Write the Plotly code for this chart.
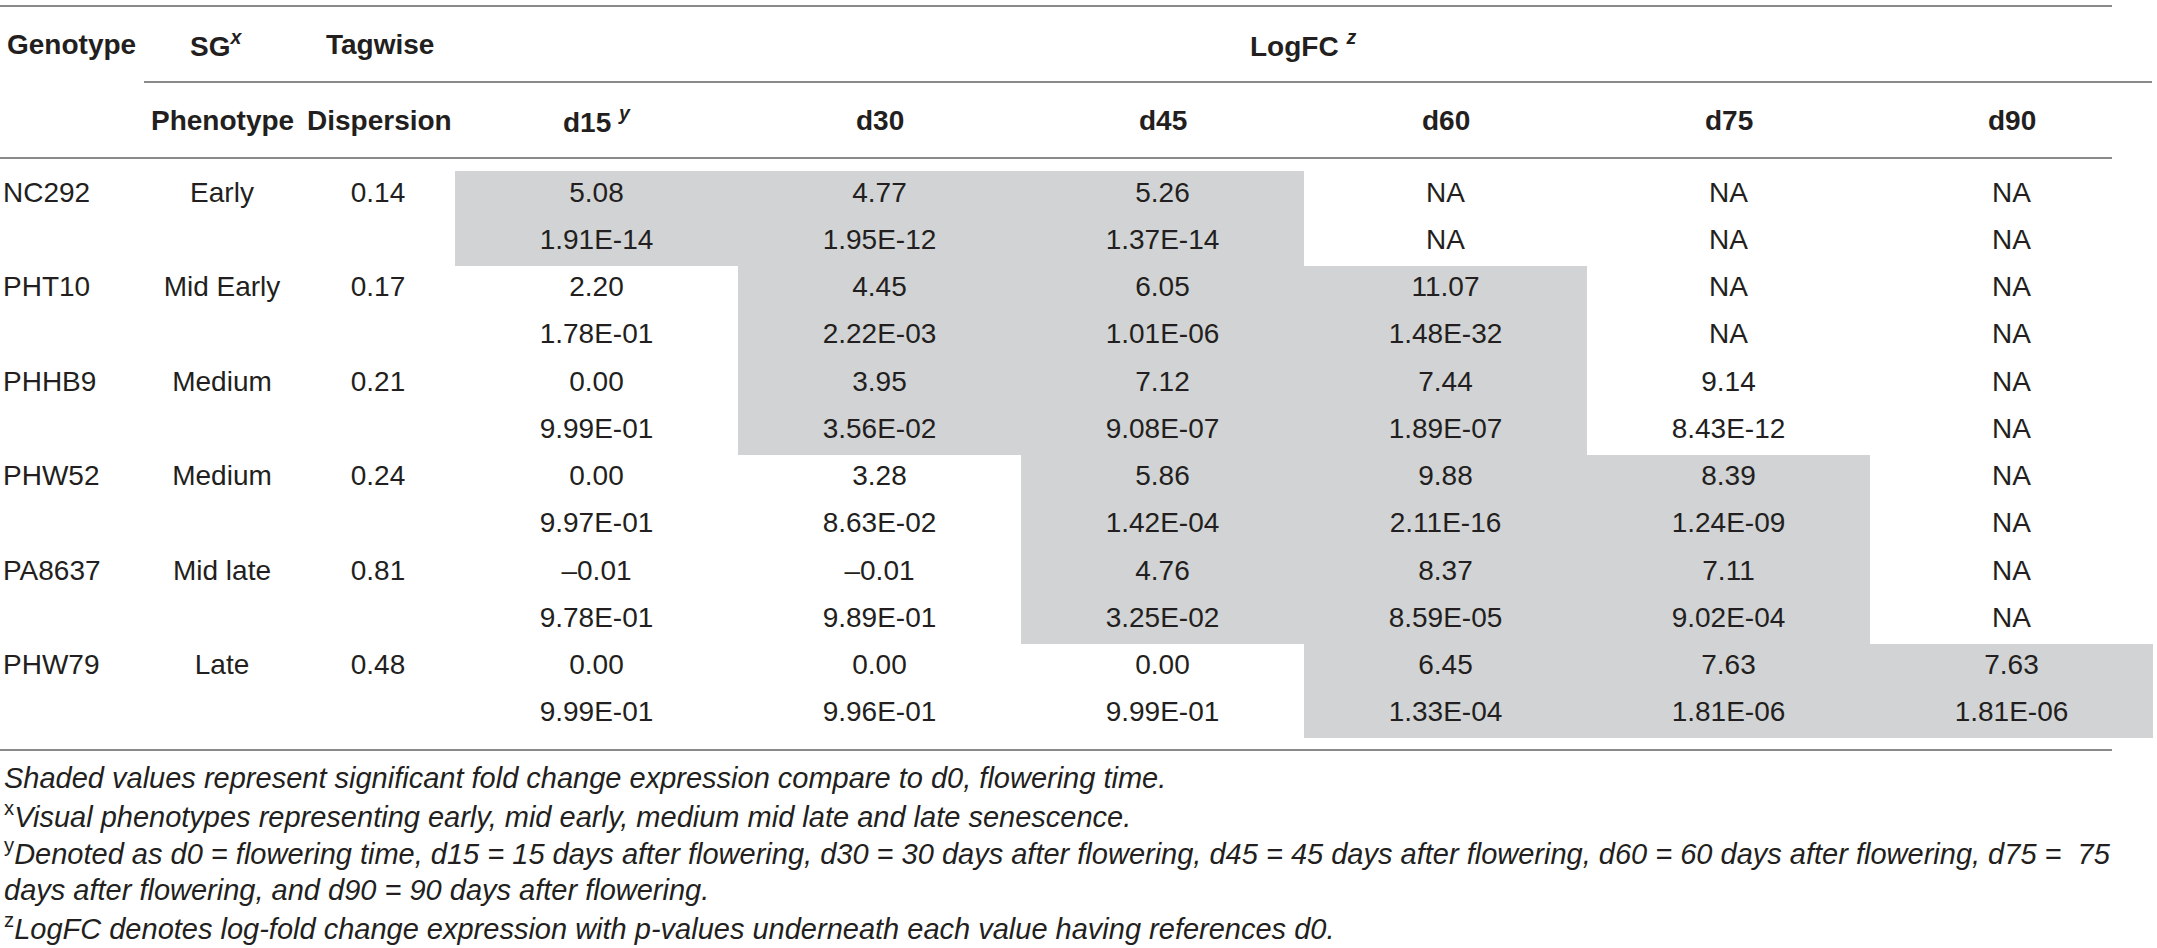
import plotly.graph_objects as go

# table contents
genotypes = ["NC292", "PHT10", "PHHB9", "PHW52", "PA8637", "PHW79"]
phenotypes = ["Early", "Mid Early", "Medium", "Medium", "Mid late", "Late"]
dispersion = [0.14, 0.17, 0.21, 0.24, 0.81, 0.48]
days = ["d15", "d30", "d45", "d60", "d75", "d90"]

logfc = [
    [5.08, 4.77, 5.26, None, None, None],
    [2.20, 4.45, 6.05, 11.07, None, None],
    [0.00, 3.95, 7.12, 7.44, 9.14, None],
    [0.00, 3.28, 5.86, 9.88, 8.39, None],
    [-0.01, -0.01, 4.76, 8.37, 7.11, None],
    [0.00, 0.00, 0.00, 6.45, 7.63, 7.63],
]
pvalues = [
    [1.91e-14, 1.95e-12, 1.37e-14, None, None, None],
    [1.78e-01, 2.22e-03, 1.01e-06, 1.48e-32, None, None],
    [9.99e-01, 3.56e-02, 9.08e-07, 1.89e-07, 8.43e-12, None],
    [9.97e-01, 8.63e-02, 1.42e-04, 2.11e-16, 1.24e-09, None],
    [9.78e-01, 9.89e-01, 3.25e-02, 8.59e-05, 9.02e-04, None],
    [9.99e-01, 9.96e-01, 9.99e-01, 1.33e-04, 1.81e-06, 1.81e-06],
]
# 1 = shaded (significant vs d0)
shaded = [
    [1, 1, 1, 0, 0, 0],
    [0, 1, 1, 1, 0, 0],
    [0, 1, 1, 1, 0, 0],
    [0, 0, 1, 1, 1, 0],
    [0, 0, 1, 1, 1, 0],
    [0, 0, 0, 1, 1, 1],
]

footnotes = [
    "<i>Shaded values represent significant fold change expression compare to d0, flowering time.</i>",
    "<sup>x</sup><i>Visual phenotypes representing early, mid early, medium mid late and late senescence.</i>",
    "<sup>y</sup><i>Denoted as d0 = flowering time, d15 = 15 days after flowering, d30 = 30 days after flowering, "
    "d45 = 45 days after flowering, d60 = 60 days after flowering, d75 =&nbsp; 75</i>",
    "<i>days after flowering, and d90 = 90 days after flowering.</i>",
    "<sup>z</sup><i>LogFC denotes log-fold change expression with p-values underneath each value having references d0.</i>",
]

# page geometry (pixels)
W, H = 2157, 948
col_x0, col_w = 455, 283
body_top, sub_h = 171, 47.25
col_centers = [col_x0 + col_w * (i + 0.5) for i in range(len(days))]
sub_centers = [body_top + sub_h * (k + 0.5) for k in range(2 * len(genotypes))]
foot_y = [778, 815, 852, 890, 927]

FONT = "Liberation Sans, Arial, sans-serif"
TXT = "#231f20"
LINE = "#8a8a8a"
SHADE = "#d1d3d4"
body_font = dict(family=FONT, size=28, color=TXT)


def fmt_fc(v):
    if v is None:
        return "NA"
    s = "{:.2f}".format(v)
    return s.replace("-", "–")


def fmt_p(v):
    return "NA" if v is None else "{:.2E}".format(v)


fig = go.Figure()

# shading
z = []
for row in shaded:
    zr = [1 if s else None for s in row]
    z.append(zr)
    z.append(zr)
fig.add_trace(go.Heatmap(
    x=col_centers, y=sub_centers, z=z,
    colorscale=[[0, SHADE], [1, SHADE]], showscale=False, hoverinfo="skip",
))

# values
xs, ys, ts = [], [], []
for g in range(len(genotypes)):
    for i in range(len(days)):
        xs += [col_centers[i], col_centers[i]]
        ys += [sub_centers[2 * g], sub_centers[2 * g + 1]]
        ts += [fmt_fc(logfc[g][i]), fmt_p(pvalues[g][i])]
fig.add_trace(go.Scatter(x=xs, y=ys, text=ts, mode="text", textposition="middle center",
                         textfont=body_font, hoverinfo="skip"))

first_rows = [sub_centers[2 * g] for g in range(len(genotypes))]
fig.add_trace(go.Scatter(x=[3] * len(genotypes), y=first_rows, text=genotypes, mode="text",
                         textposition="middle right", textfont=body_font,
                         hoverinfo="skip", cliponaxis=False))
fig.add_trace(go.Scatter(x=[222] * len(genotypes), y=first_rows, text=phenotypes, mode="text",
                         textposition="middle center", textfont=body_font, hoverinfo="skip"))
fig.add_trace(go.Scatter(x=[378] * len(genotypes), y=first_rows,
                         text=["{:.2f}".format(d) for d in dispersion], mode="text",
                         textposition="middle center", textfont=body_font, hoverinfo="skip"))

# header
heads = [
    (5, 44, "<b>Genotype</b>", "left"),
    (216, 44, "<b>SG<sup><i>x</i></sup></b>", "center"),
    (380, 44, "<b>Tagwise</b>", "center"),
    (1303, 44, "<b>LogFC <sup><i>z</i></sup></b>", "center"),
    (222, 120, "<b>Phenotype</b>", "center"),
    (379, 120, "<b>Dispersion</b>", "center"),
]
for i, d in enumerate(days):
    lab = "<b>" + d + (" <sup><i>y</i></sup>" if i == 0 else "") + "</b>"
    heads.append((col_centers[i], 120, lab, "center"))
for x, y, t, xa in heads:
    fig.add_annotation(x=x, y=y, text=t, showarrow=False, xanchor=xa, yanchor="middle",
                       xref="x", yref="y", font=body_font)

for y, t in zip(foot_y, footnotes):
    fig.add_annotation(x=2, y=y, text=t, showarrow=False, xanchor="left", yanchor="middle",
                       xref="x", yref="y", font=dict(family=FONT, size=29, color=TXT))

# rules
for x0, x1, y in [(0, 2112, 6), (144, 2152, 82), (0, 2112, 158), (0, 2112, 750)]:
    fig.add_shape(type="line", x0=x0, x1=x1, y0=y, y1=y, xref="x", yref="y",
                  line=dict(color=LINE, width=2))

fig.update_layout(
    width=W, height=H,
    margin=dict(l=0, r=0, t=0, b=0),
    paper_bgcolor="white", plot_bgcolor="white",
    font=body_font,
    showlegend=False,
    xaxis=dict(range=[0, W], visible=False, fixedrange=True),
    yaxis=dict(range=[H, 0], visible=False, fixedrange=True),
)

fig.write_html("out.html", config={"displayModeBar": False},
               post_script="document.body.style.margin='0';")
